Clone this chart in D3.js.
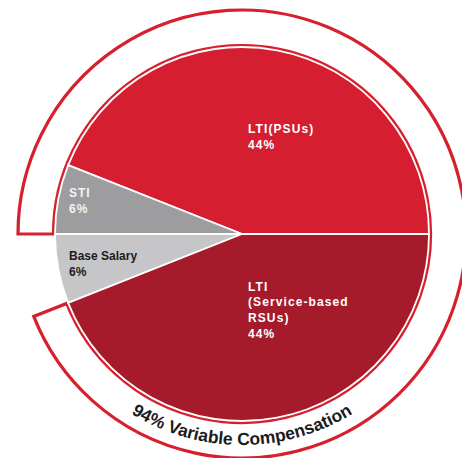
<!DOCTYPE html>
<html>
<head>
<meta charset="utf-8">
<script src="https://cdn.jsdelivr.net/npm/d3@7"></script>
<style>
  html, body { margin: 0; padding: 0; background: #ffffff; }
  svg { display: block; }
  text { font-family: "Liberation Sans", Arial, sans-serif; font-weight: bold; }
</style>
</head>
<body>
<svg id="chart" width="462" height="458"></svg>
<script>
// Pay mix of the CEO target compensation
const categories = ["LTI (PSUs)", "STI", "Base Salary", "LTI (Service-based RSUs)"];
const shares = [44, 6, 6, 44];
const labelLines = [["LTI(PSUs)"], ["STI"], ["Base Salary"], ["LTI", "(Service-based", "RSUs)"]];
const variableCategories = ["LTI (PSUs)", "STI", "LTI (Service-based RSUs)"];

const colors = ["#d51f30", "#9d9d9f", "#c6c6c8", "#a51b2c"];
const textColors = ["#ffffff", "#f4f4f4", "#1c1c1c", "#ffffff"];

const width = 462, height = 458;
const cx = 242, cy = 234;
const rPie = 187, rRing = 224, rText = 211;

const svg = d3.select("#chart");
const g = svg.append("g").attr("transform", `translate(${cx},${cy})`);

// Slices run counter-clockwise starting at 3 o'clock
const pie = d3.pie().sort(null).value(d => d)
  .startAngle(Math.PI / 2).endAngle(Math.PI / 2 - 2 * Math.PI);
const arcs = pie(shares);

// Outer band spanning the variable (at-risk) components
const iSti = categories.indexOf("STI");
const iBase = categories.indexOf("Base Salary");
const ringArc = d3.arc()
  .innerRadius(rPie + 1.5).outerRadius(rRing)
  .startAngle(arcs[iSti].endAngle)
  .endAngle(arcs[iBase].endAngle + 2 * Math.PI);
g.append("path")
  .attr("d", ringArc())
  .attr("fill", "#ffffff")
  .attr("stroke", "#d6202e")
  .attr("stroke-width", 3.2)
  .attr("stroke-linejoin", "miter");

// Pie slices
const arc = d3.arc().innerRadius(0).outerRadius(rPie);
g.selectAll("path.slice")
  .data(arcs)
  .join("path")
  .attr("class", "slice")
  .attr("d", arc)
  .attr("fill", (d, i) => colors[i])
  .attr("stroke", "#ffffff")
  .attr("stroke-width", 1.8)
  .attr("stroke-linejoin", "round");

// Slice labels: name lines followed by the share
const labelPos = [
  { x: 6, y: -101, size: 12, spacing: 1.1, lh: 16 },
  { x: -173, y: -37.5, size: 12, spacing: 1, lh: 16 },
  { x: -173, y: 26, size: 12, spacing: 0, lh: 16 },
  { x: 6, y: 56.5, size: 12, spacing: 1.1, lh: 15.8 }
];
arcs.forEach((d, i) => {
  const p = labelPos[i];
  const lines = labelLines[i].concat([`${shares[i]}%`]);
  const t = g.append("text")
    .attr("x", p.x).attr("y", p.y)
    .attr("fill", textColors[i])
    .attr("font-size", p.size)
    .attr("letter-spacing", p.spacing);
  lines.forEach((line, k) => {
    t.append("tspan").attr("x", p.x).attr("y", p.y + k * p.lh).text(line);
  });
});

// Curved caption along the bottom of the band
const variableShare = d3.sum(categories.map((c, i) => variableCategories.includes(c) ? shares[i] : 0));
const a0 = 150 * Math.PI / 180, a1 = 30 * Math.PI / 180;
const captionPath = `M${rText * Math.cos(a0)},${rText * Math.sin(a0)} A${rText},${rText} 0 0 0 ${rText * Math.cos(a1)},${rText * Math.sin(a1)}`;
g.append("path").attr("id", "captionPath").attr("d", captionPath).attr("fill", "none");
g.append("text")
  .attr("fill", "#1c1c1c")
  .attr("font-size", 17.5)
  .append("textPath")
  .attr("href", "#captionPath")
  .attr("startOffset", "50%")
  .attr("text-anchor", "middle")
  .text(`${variableShare}% Variable Compensation`);
</script>
</body>
</html>
